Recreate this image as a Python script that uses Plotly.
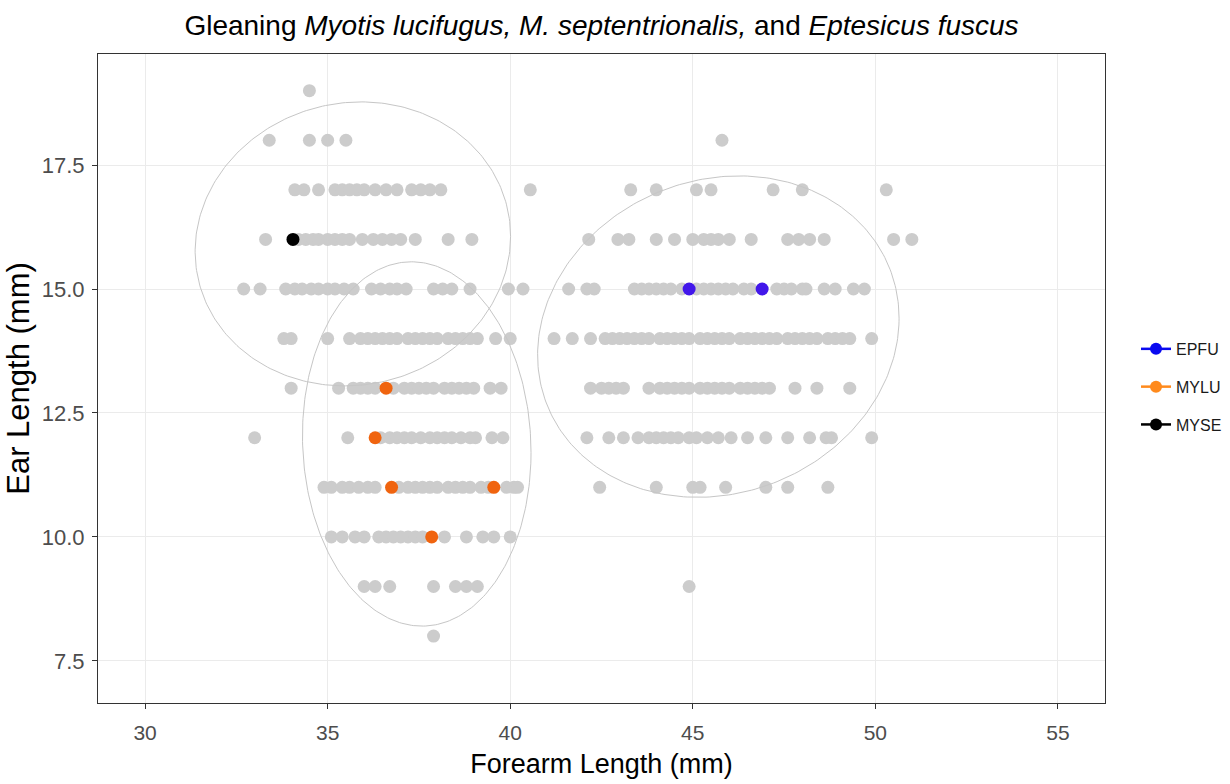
import numpy as np
import plotly.graph_objects as go

# ---------------- data (forearm length, mm) per ear-length row ----------------
ear_levels = [19, 18, 17, 16, 15, 14, 13, 12, 11, 10, 9, 8]

fa_19 = [34.5]
fa_18 = [33.4, 34.5, 35.0, 35.5, 45.8]
fa_17 = [34.1, 34.35, 34.75, 35.2, 35.4, 35.6, 35.8, 36.0, 36.3, 36.6, 36.9,
         37.3, 37.55, 37.8, 38.1, 40.55, 43.3, 44.0, 45.1, 45.5, 47.2, 48.0, 50.3]
fa_16 = [33.3, 34.2, 34.4, 34.6, 34.75, 35.0, 35.2, 35.4, 35.6, 35.95, 36.25,
         36.5, 36.75, 37.0, 37.4, 38.3, 38.95, 42.15, 42.95, 43.25, 44.0, 44.5,
         45.0, 45.3, 45.5, 45.7, 46.0, 46.6, 47.6, 47.9, 48.2, 48.6, 50.5, 51.0]
fa_15 = [32.7, 33.15, 33.85, 34.1, 34.3, 34.55, 34.75, 35.0, 35.2, 35.45, 35.7,
         36.2, 36.45, 36.7, 36.9, 37.15, 37.9, 38.15, 38.4, 38.9, 39.95, 40.35,
         41.6, 42.1, 42.3, 43.4, 43.6, 43.8, 44.0, 44.2, 44.4, 44.7, 45.1, 45.3,
         45.5, 45.7, 45.9, 46.1, 46.4, 46.6, 47.3, 47.5, 47.7, 48.0, 48.1, 48.6,
         48.9, 49.4, 49.7]
fa_14 = [33.8, 34.0, 35.0, 35.6, 35.9, 36.1, 36.3, 36.5, 36.7, 36.9, 37.2, 37.4,
         37.6, 37.8, 38.0, 38.3, 38.5, 38.7, 38.9, 39.1, 39.6, 40.0, 41.2, 41.7,
         42.2, 42.6, 42.8, 43.0, 43.2, 43.4, 43.6, 43.8, 44.1, 44.3, 44.5, 44.7,
         44.9, 45.2, 45.4, 45.6, 45.8, 46.0, 46.3, 46.5, 46.7, 46.9, 47.1, 47.3,
         47.6, 47.8, 48.0, 48.2, 48.4, 48.7, 48.9, 49.1, 49.3, 49.9]
fa_13 = [34.0, 35.3, 35.7, 35.9, 36.1, 36.3, 36.8, 37.1, 37.3, 37.5, 37.7, 37.9,
         38.2, 38.4, 38.6, 38.8, 39.0, 39.45, 39.75, 42.2, 42.5, 42.7, 42.9, 43.1,
         43.8, 44.1, 44.3, 44.5, 44.7, 44.9, 45.2, 45.4, 45.6, 45.8, 46.0, 46.3,
         46.5, 46.7, 46.9, 47.1, 47.8, 48.4, 49.3]
fa_12 = [33.0, 35.55, 36.45, 36.7, 36.9, 37.1, 37.3, 37.55, 37.8, 38.0, 38.2,
         38.4, 38.65, 38.9, 39.05, 39.5, 39.8, 42.1, 42.7, 43.1, 43.5, 43.8, 44.0,
         44.2, 44.4, 44.6, 44.9, 45.1, 45.4, 45.7, 46.05, 46.5, 47.0, 47.6, 48.2,
         48.65, 48.8, 49.9]
fa_11 = [34.9, 35.1, 35.4, 35.6, 35.85, 36.1, 36.3, 36.95, 37.2, 37.4, 37.6,
         37.8, 38.0, 38.3, 38.5, 38.7, 38.9, 39.2, 39.4, 39.9, 40.1, 40.2, 42.45,
         44.0, 45.0, 45.2, 45.9, 47.0, 47.6, 48.7]
fa_10 = [35.1, 35.4, 35.75, 36.0, 36.4, 36.6, 36.8, 37.0, 37.2, 37.4, 37.6,
         38.2, 38.8, 39.25, 39.55, 40.0]
fa_9 = [36.0, 36.3, 36.7, 37.9, 38.5, 38.8, 39.1, 44.9]
fa_8 = [37.9]

rows = [fa_19, fa_18, fa_17, fa_16, fa_15, fa_14, fa_13, fa_12, fa_11, fa_10, fa_9, fa_8]

# gleaning individuals
species = ["EPFU", "MYLU", "MYSE"]
epfu_x = [44.9, 46.9]
epfu_y = [15, 15]
mylu_x = [36.6, 36.3, 36.75, 39.55, 37.85]
mylu_y = [13, 12, 11, 11, 10]
myse_x = [34.05]
myse_y = [16]

# ellipse parameters (MYSE, MYLU, EPFU)
ell_cx = [35.69, 37.44, 45.70]
ell_cy = [15.91, 11.875, 14.04]
ell_rx = [4.32, 3.13, 4.95]
ell_ry = [2.86, 3.67, 3.22]
ell_k = [0.15, -0.17, 0.37]

x_ticks = [30, 35, 40, 45, 50, 55]
y_ticks = [7.5, 10, 12.5, 15, 17.5]
y_ticktext = ["7.5", "10.0", "12.5", "15.0", "17.5"]

# ---------------- figure ----------------
FONT = "Liberation Sans, Arial, sans-serif"
fig = go.Figure()

gx, gy = [], []
for lvl, r in zip(ear_levels, rows):
    gx += r
    gy += [lvl] * len(r)

fig.add_trace(go.Scatter(x=gx, y=gy, mode="markers", showlegend=False,
                         marker=dict(size=13, color="#cccccc"), hoverinfo="skip"))

t = np.linspace(0, 2 * np.pi, 300)
for cx, cy, rx, ry, k in zip(ell_cx, ell_cy, ell_rx, ell_ry, ell_k):
    fig.add_trace(go.Scatter(x=cx + rx * np.cos(t), y=cy + ry * np.sin(t) + k * np.cos(t),
                             mode="lines", line=dict(color="#c6c6c6", width=1),
                             showlegend=False, hoverinfo="skip"))

pt_colors = ["#4217ea", "#f0640f", "#000000"]
leg_colors = ["#0a0af0", "#ff8a1c", "#000000"]
for name, xs, ys, pc, lc in zip(species, [epfu_x, mylu_x, myse_x], [epfu_y, mylu_y, myse_y],
                                pt_colors, leg_colors):
    fig.add_trace(go.Scatter(x=xs, y=ys, mode="markers", showlegend=False,
                             marker=dict(size=13, color=pc)))
    fig.add_trace(go.Scatter(x=[None], y=[None], mode="lines+markers", name=name,
                             legendgroup=name,
                             line=dict(color=lc, width=2.5), marker=dict(size=12, color=lc)))

fig.update_layout(
    width=1230, height=784,
    margin=dict(l=98, r=125, t=54, b=81, autoexpand=False),
    plot_bgcolor="white", paper_bgcolor="white",
    font=dict(family=FONT),
    title=dict(text="Gleaning <i>Myotis lucifugus, M. septentrionalis,</i> and <i>Eptesicus fuscus</i>",
               x=0.5, xref="paper", xanchor="center",
               y=1 - 25 / 784, yref="container", yanchor="middle",
               font=dict(size=28, color="black", family=FONT)),
    legend=dict(x=1.0308, xanchor="left", y=0.487, yanchor="middle",
                font=dict(size=16, color="#1a1a1a"), tracegroupgap=14,
                itemwidth=30, bgcolor="rgba(0,0,0,0)"),
)
fig.update_xaxes(range=[28.71, 56.29], tickvals=x_ticks, showgrid=True, gridcolor="#ebebeb",
                 gridwidth=1, zeroline=False, showline=True, linecolor="#333333", linewidth=1,
                 mirror=True, ticks="outside", ticklen=5, tickcolor="#333333",
                 tickfont=dict(size=21, color="#4d4d4d"), automargin=False, ticklabelstandoff=6,
                 title=dict(text="Forearm Length (mm)", font=dict(size=27, color="black"), standoff=10))
fig.update_yaxes(range=[6.65, 19.74], tickvals=y_ticks, ticktext=y_ticktext, showgrid=True,
                 gridcolor="#ebebeb", gridwidth=1, zeroline=False, showline=True,
                 linecolor="#333333", linewidth=1, mirror=True, ticks="outside", ticklen=5,
                 tickcolor="#333333", tickfont=dict(size=22, color="#4d4d4d"), automargin=False,
                 ticklabelstandoff=3,
                 title=dict(text="Ear Length (mm)", font=dict(size=31, color="black"), standoff=2))

fig.write_html("out.html", post_script="document.body.style.margin='0';",
               config={"displayModeBar": False})
